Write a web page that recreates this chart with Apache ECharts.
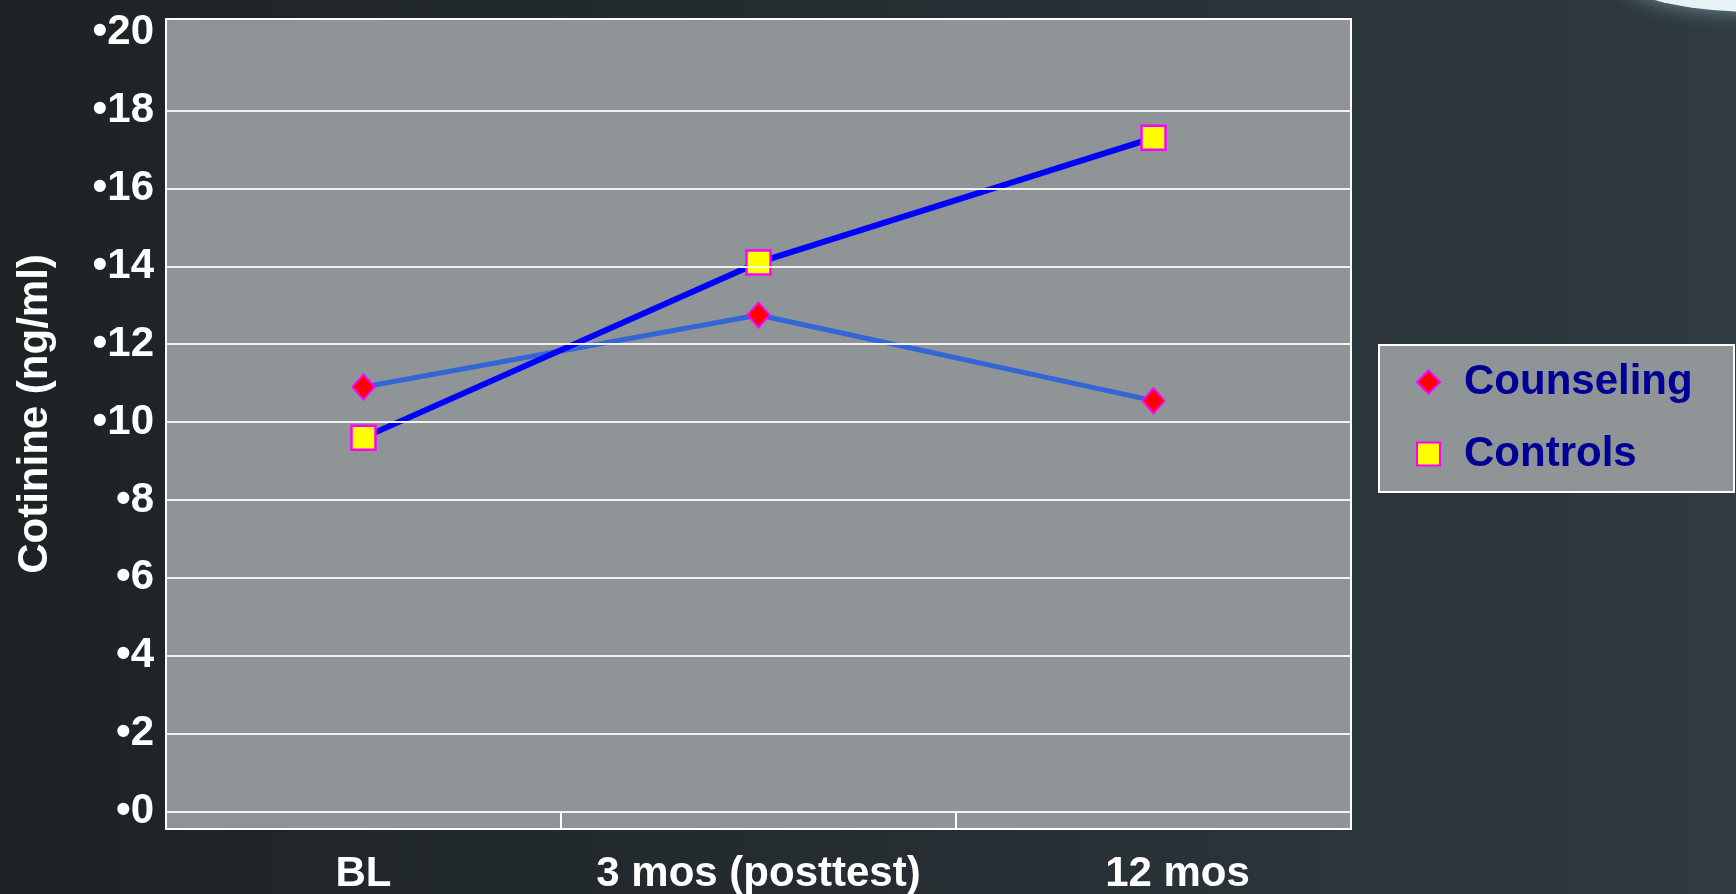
<!DOCTYPE html>
<html>
<head>
<meta charset="utf-8">
<script src="https://cdn.jsdelivr.net/npm/echarts@6/dist/echarts.min.js"></script>
<style>
  html, body { margin: 0; padding: 0; }
  #chart { width: 1736px; height: 894px; }
</style>
</head>
<body>
<div id="chart"></div>
<script>
// data
const categories = ["BL", "3 mos (posttest)", "12 mos"];
const counseling = [10.9, 12.75, 10.55];
const controls = [9.6, 14.1, 17.3];
// y ticks; the slide shows no gridline at 20 (it sits under the frame)
const yTicks = [0, 2, 4, 6, 8, 10, 12, 14, 16, 18, 20];
const gridValues = [0, 2, 4, 6, 8, 10, 12, 14, 16, 18];

const FONT = "'Liberation Sans', Arial, sans-serif";
const FS = 42;
const chart = echarts.init(document.getElementById("chart"));

const option = {
  backgroundColor: new echarts.graphic.LinearGradient(0, 0, 1, 0, [
    { offset: 0, color: "#1d2225" },
    { offset: 0.5, color: "#252d31" },
    { offset: 1, color: "#2f3b41" }
  ]),
  animation: false,
  grid: {
    left: 166,
    top: 19,
    width: 1185,
    height: 810,
    outerBoundsMode: "none",
    containLabel: false,
    show: true,
    backgroundColor: "#8f9496",
    borderColor: "#ffffff",
    borderWidth: 2
  },
  graphic: [
    // legend box
    {
      type: "rect",
      shape: { x: 1379, y: 345, width: 355, height: 147 },
      style: { fill: "#8f9496", stroke: "#ffffff", lineWidth: 2 },
      z: 0
    },
    // glow in the top right corner
    {
      type: "ellipse",
      shape: { cx: 1760, cy: -20, rx: 135, ry: 32 },
      style: { fill: "#e6f2f4", shadowColor: "#6f8c92", shadowBlur: 20 },
      z: 0
    }
  ],
  legend: {
    orient: "vertical",
    left: 1416,
    top: 361,
    padding: 0,
    itemGap: 30,
    itemWidth: 23,
    itemHeight: 23,
    textStyle: {
      color: "#000096", fontFamily: FONT, fontWeight: "bold", fontSize: FS,
      padding: [0, 0, 0, 19]
    },
    data: [
      { name: "Counseling", icon: "diamond" },
      { name: "Controls", icon: "rect" }
    ]
  },
  xAxis: {
    type: "category",
    data: categories,
    boundaryGap: true,
    z: 5,
    axisLine: { onZero: false, lineStyle: { color: "#ffffff", width: 2 } },
    axisTick: { show: true, inside: true, length: 18, interval: 0, lineStyle: { color: "#ffffff", width: 2 } },
    axisLabel: {
      interval: 0,
      color: "#ffffff",
      fontFamily: FONT,
      fontWeight: "bold",
      fontSize: FS,
      margin: 24,
      formatter: function (v) {
        return v === "12 mos" ? "{r|" + v + "}" : v;
      },
      rich: {
        r: { color: "#ffffff", fontFamily: FONT, fontWeight: "bold", fontSize: FS, padding: [0, 0, 0, 48] }
      }
    }
  },
  yAxis: {
    type: "value",
    min: -0.45,
    max: 20.35,
    splitNumber: 10,
    name: "Cotinine (ng/ml)",
    nameLocation: "middle",
    nameRotate: 90,
    nameGap: 110,
    nameTextStyle: {
      color: "#ffffff", fontFamily: FONT, fontWeight: "bold", fontSize: FS,
      padding: [0, 0, 0, 20]
    },
    axisLine: { show: false },
    axisTick: { show: false },
    axisLabel: {
      color: "#ffffff",
      fontFamily: FONT,
      fontWeight: "bold",
      fontSize: FS,
      margin: 12,
      padding: [0, 0, 10, 0],
      showMinLabel: false,
      showMaxLabel: false,
      formatter: function (v) {
        return yTicks.indexOf(v) >= 0 ? "\u2022" + v : "";
      }
    },
    splitLine: { show: false }
  },
  series: [
    {
      // gridlines
      name: "grid",
      type: "line",
      data: [],
      silent: true,
      z: 1,
      markLine: {
        silent: true,
        symbol: "none",
        label: { show: false },
        lineStyle: { color: "#f2f2f2", width: 2, type: "solid" },
        data: gridValues.map(function (v) { return { yAxis: v }; })
      }
    },
    {
      name: "Counseling",
      type: "line",
      data: counseling,
      symbol: "diamond",
      symbolSize: [22, 25],
      lineStyle: { color: "#3465d6", width: 5 },
      itemStyle: { color: "#ff0000", borderColor: "#ff00ff", borderWidth: 2 },
      z: 2
    },
    {
      name: "Controls",
      type: "line",
      data: controls,
      symbol: "rect",
      symbolSize: 24,
      lineStyle: { color: "#0000ff", width: 6 },
      itemStyle: { color: "#ffff00", borderColor: "#ff00ff", borderWidth: 2.5 },
      z: 3
    }
  ]
};

chart.setOption(option);
</script>
</body>
</html>
